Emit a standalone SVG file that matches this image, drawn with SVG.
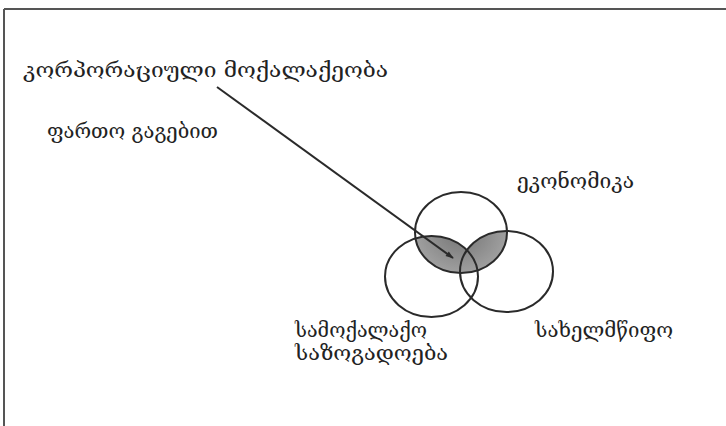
<svg xmlns="http://www.w3.org/2000/svg" width="726" height="426" viewBox="0 0 726 426">
<style>
.t{font-family:"DejaVu Serif","DejaVu Sans",serif;font-size:20px;fill:#222}
.c{fill:none;stroke:#2a2a2a;stroke-width:2}
</style>
<defs>
<radialGradient id="g" cx="0.5" cy="0.5" r="0.6">
<stop offset="0" stop-color="#747474"/>
<stop offset="1" stop-color="#a8a8a8"/>
</radialGradient>
<clipPath id="cl"><ellipse cx="431.5" cy="276.5" rx="46.5" ry="40.5"/></clipPath>
<clipPath id="cr"><ellipse cx="506.5" cy="271.5" rx="46.5" ry="40.5"/></clipPath>
<marker id="ah" viewBox="0 0 10 10" refX="9" refY="5" markerWidth="9" markerHeight="8" orient="auto" markerUnits="userSpaceOnUse">
<path d="M0,1.5 L10,5 L0,8.5 z" fill="#2a2a2a"/>
</marker>
</defs>
<rect width="726" height="426" fill="#fff"/>
<g id="frame">
<line x1="4" y1="9" x2="726" y2="9" stroke="#555" stroke-width="2"/>
<line x1="4" y1="9" x2="4" y2="426" stroke="#555" stroke-width="2"/>
</g>
<g id="shading">
<ellipse cx="461" cy="232.5" rx="46" ry="40.5" fill="url(#g)" clip-path="url(#cl)"/>
<ellipse cx="461" cy="232.5" rx="46" ry="40.5" fill="url(#g)" clip-path="url(#cr)"/>
</g>
<g id="economy">
<ellipse class="c" cx="461" cy="232.5" rx="46" ry="40.5"/>
<text class="t" x="517" y="188" textLength="117" lengthAdjust="spacingAndGlyphs">ეკონომიკა</text>
</g>
<g id="civil-society">
<ellipse class="c" cx="431.5" cy="276.5" rx="46.5" ry="40.5"/>
<text class="t" x="295" y="337" textLength="132" lengthAdjust="spacingAndGlyphs">სამოქალაქო</text>
<text class="t" x="295" y="360" textLength="153" lengthAdjust="spacingAndGlyphs">საზოგადოება</text>
</g>
<g id="state">
<ellipse class="c" cx="506.5" cy="271.5" rx="46.5" ry="40.5"/>
<text class="t" x="535" y="337" textLength="138" lengthAdjust="spacingAndGlyphs">სახელმწიფო</text>
</g>
<g id="corporate-citizenship">
<text class="t" x="23" y="77" textLength="365" lengthAdjust="spacingAndGlyphs">კორპორაციული მოქალაქეობა</text>
<text class="t" x="47" y="138" textLength="171" lengthAdjust="spacingAndGlyphs">ფართო გაგებით</text>
</g>
<g id="connectors">
<line x1="217" y1="87" x2="453" y2="258" stroke="#2a2a2a" stroke-width="2" marker-end="url(#ah)"/>
</g>
</svg>
